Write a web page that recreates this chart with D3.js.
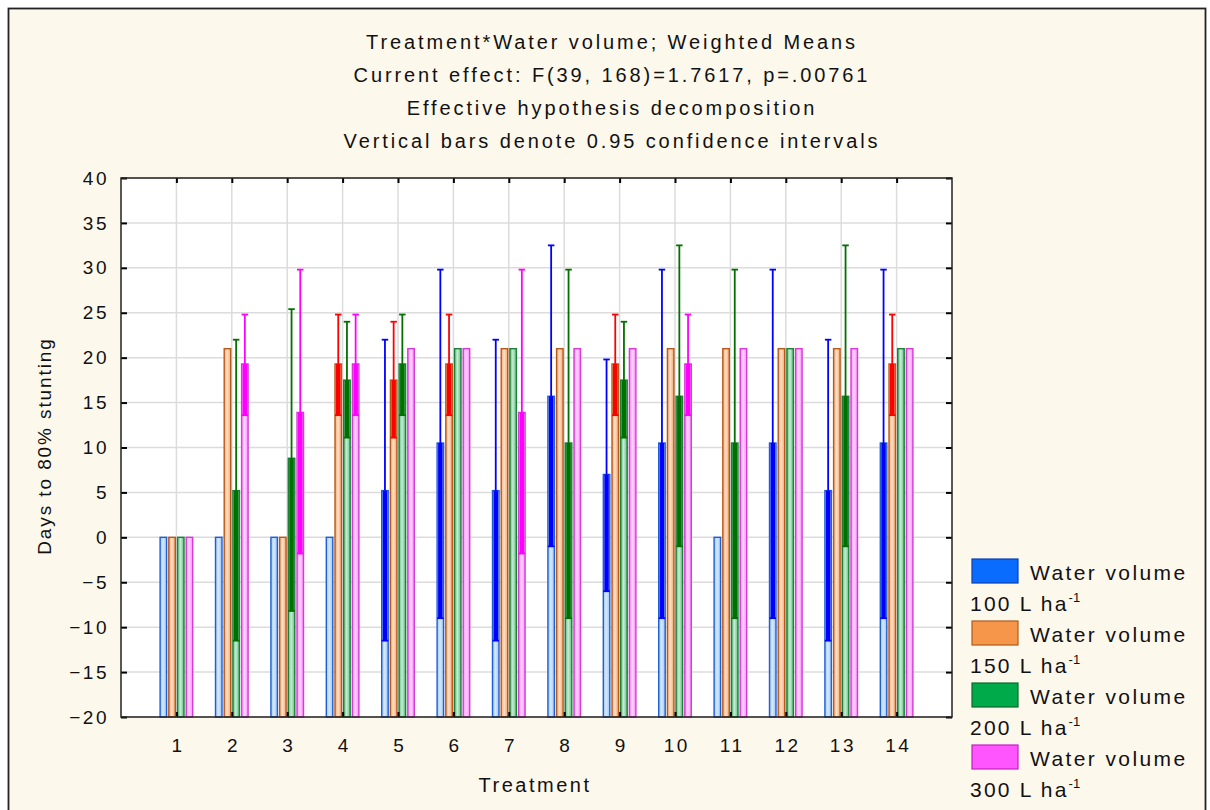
<!DOCTYPE html>
<html>
<head>
<meta charset="utf-8">
<script src="https://cdn.jsdelivr.net/npm/d3@7"></script>
<style>
  body { margin: 0; background: #fff; }
  text { font-family: "Liberation Sans", Arial, sans-serif; fill: #111; }
</style>
</head>
<body>
<svg id="chart" width="1210" height="810"></svg>
<script>
// treatments on the x axis
const treatments = ["1", "2", "3", "4", "5", "6", "7", "8", "9", "10", "11", "12", "13", "14"];
const yTicks = [-20, -15, -10, -5, 0, 5, 10, 15, 20, 25, 30, 35, 40];

const titleLines = [
    "Treatment*Water volume; Weighted Means",
    "Current effect: F(39, 168)=1.7617, p=.00761",
    "Effective hypothesis decomposition",
    "Vertical bars denote 0.95 confidence intervals"
];

// weighted means and 0.95 CI bounds, one array per water volume (null = no interval drawn)
const mean100 = [0, 0, 0, 0, 5.2, 10.5, 5.2, 15.7, 7.0, 10.5, 0, 10.5, 5.2, 10.5];
const low100  = [null, null, null, null, -11.5, -9.0, -11.5, -1.0, -6.0, -9.0, null, -9.0, -11.5, -9.0];
const high100 = [null, null, null, null, 22.0, 29.8, 22.0, 32.5, 19.8, 29.8, null, 29.8, 22.0, 29.8];

const mean150 = [0, 21, 0, 19.3, 17.5, 19.3, 21, 21, 19.3, 21, 21, 21, 21, 19.3];
const low150  = [null, null, null, 13.6, 11.1, 13.6, null, null, 13.6, null, null, null, null, 13.6];
const high150 = [null, null, null, 24.8, 24.0, 24.8, null, null, 24.8, null, null, null, null, 24.8];

const mean200 = [0, 5.2, 8.8, 17.5, 19.3, 21, 21, 10.5, 17.5, 15.7, 10.5, 21, 15.7, 21];
const low200  = [null, -11.5, -8.2, 11.1, 13.6, null, null, -9.0, 11.1, -1.0, -9.0, null, -1.0, null];
const high200 = [null, 22.0, 25.4, 24.0, 24.8, null, null, 29.8, 24.0, 32.5, 29.8, null, 32.5, null];

const mean300 = [0, 19.3, 13.9, 19.3, 21, 21, 13.9, 21, 21, 19.3, 21, 21, 21, 21];
const low300  = [null, 13.6, -1.8, 13.6, null, null, -1.8, null, null, 13.6, null, null, null, null];
const high300 = [null, 24.8, 29.8, 24.8, null, null, 29.8, null, null, 24.8, null, null, null, null];

const seriesNames = ["100 L ha", "150 L ha", "200 L ha", "300 L ha"];

const series = [
    {name: seriesNames[0], mean: mean100, low: low100, high: high100,
     stroke: "#1f5fd6", light: "#d6e8fb", mid: "#9cc6f2", ci: "#0000ff", swatch: "#0a6cff", swatchStroke: "#0a3fb0"},
    {name: seriesNames[1], mean: mean150, low: low150, high: high150,
     stroke: "#b85a1c", light: "#fde0c8", mid: "#f4a870", ci: "#ff0000", swatch: "#f5964a", swatchStroke: "#b05a1a"},
    {name: seriesNames[2], mean: mean200, low: low200, high: high200,
     stroke: "#1d7f3a", light: "#c8ecd4", mid: "#5cc07e", ci: "#007000", swatch: "#00a94a", swatchStroke: "#0a6a2a"},
    {name: seriesNames[3], mean: mean300, low: low300, high: high300,
     stroke: "#d43cd4", light: "#ffd6ff", mid: "#ff88ff", ci: "#ff00ff", swatch: "#ff55ff", swatchStroke: "#c020c0"}
];

const svg = d3.select("#chart");

// frame
svg.append("rect").attr("x", 0).attr("y", 0).attr("width", 1210).attr("height", 810).attr("fill", "#fff");
svg.append("rect").attr("x", 8.5).attr("y", 8.5).attr("width", 1197).attr("height", 810)
   .attr("fill", "#fdf8ec").attr("stroke", "#222").attr("stroke-width", 1.8);

const plot = {left: 121, right: 952, top: 178, bottom: 717};

const x = d3.scaleLinear().domain([0, treatments.length + 1]).range([plot.left, plot.right]);
const y = d3.scaleLinear().domain([-20, 40]).range([plot.bottom, plot.top]);

// gradients for bar fill
const defs = svg.append("defs");
series.forEach((s, i) => {
    const g = defs.append("linearGradient").attr("id", "grad" + i)
        .attr("x1", "0%").attr("x2", "100%").attr("y1", "0%").attr("y2", "0%");
    g.append("stop").attr("offset", "0%").attr("stop-color", s.mid);
    g.append("stop").attr("offset", "45%").attr("stop-color", s.light);
    g.append("stop").attr("offset", "100%").attr("stop-color", s.mid);
});

svg.append("rect").attr("x", plot.left).attr("y", plot.top)
   .attr("width", plot.right - plot.left).attr("height", plot.bottom - plot.top)
   .attr("fill", "#fff");

// grid
svg.append("g").selectAll("line").data(yTicks).enter().append("line")
   .attr("x1", plot.left).attr("x2", plot.right)
   .attr("y1", d => y(d)).attr("y2", d => y(d))
   .attr("stroke", "#dcdcdc").attr("stroke-width", 1.5);
svg.append("g").selectAll("line").data(treatments).enter().append("line")
   .attr("x1", (d, i) => x(i + 1)).attr("x2", (d, i) => x(i + 1))
   .attr("y1", plot.top).attr("y2", plot.bottom)
   .attr("stroke", "#dcdcdc").attr("stroke-width", 1.5);

// bars
const step = 8.7, barW = 6.5;
series.forEach((s, si) => {
    const g = svg.append("g");
    const off = (si - 1.5) * step;
    const rows = treatments.map((t, i) => ({i: i, mean: s.mean[i], low: s.low[i], high: s.high[i]}));

    g.selectAll("rect.bar").data(rows).enter().append("rect")
     .attr("class", "bar")
     .attr("x", d => x(d.i + 1) + off - barW / 2)
     .attr("y", d => y(d.mean))
     .attr("width", barW)
     .attr("height", d => y(-20) - y(d.mean))
     .attr("fill", "url(#grad" + si + ")")
     .attr("stroke", s.stroke).attr("stroke-width", 1.4);

    const withCI = rows.filter(d => d.low !== null);

    // confidence part inside the bar
    g.selectAll("rect.ci").data(withCI).enter().append("rect")
     .attr("class", "ci")
     .attr("x", d => x(d.i + 1) + off - barW / 2 + 1)
     .attr("y", d => y(d.mean))
     .attr("width", barW - 2)
     .attr("height", d => y(d.low) - y(d.mean))
     .attr("fill", s.ci);

    g.selectAll("line.whisker").data(withCI).enter().append("line")
     .attr("class", "whisker")
     .attr("x1", d => x(d.i + 1) + off).attr("x2", d => x(d.i + 1) + off)
     .attr("y1", d => y(d.high)).attr("y2", d => y(d.mean))
     .attr("stroke", s.ci).attr("stroke-width", 1.8);

    ["high", "low"].forEach(k => {
        g.selectAll("line.cap-" + k).data(withCI).enter().append("line")
         .attr("class", "cap-" + k)
         .attr("x1", d => x(d.i + 1) + off - barW / 2).attr("x2", d => x(d.i + 1) + off + barW / 2)
         .attr("y1", d => y(d[k])).attr("y2", d => y(d[k]))
         .attr("stroke", s.ci).attr("stroke-width", 1.8);
    });
});

// axes with inward ticks
const yAxisL = d3.axisLeft(y).tickValues(yTicks).tickSize(-6).tickPadding(12);
svg.append("g").attr("transform", `translate(${plot.left},0)`).call(yAxisL)
   .call(g => g.select(".domain").remove())
   .call(g => g.selectAll("text").attr("font-size", 19).attr("letter-spacing", 2.5)
       .attr("font-family", "Liberation Sans, Arial, sans-serif").attr("fill", "#111"));
svg.append("g").attr("transform", `translate(${plot.right},0)`)
   .call(d3.axisRight(y).tickValues(yTicks).tickSize(-6).tickFormat(""))
   .call(g => g.select(".domain").remove());

const xVals = treatments.map((t, i) => i + 1);
svg.append("g").attr("transform", `translate(0,${plot.bottom})`)
   .call(d3.axisBottom(x).tickValues(xVals).tickSize(-5).tickPadding(22).tickFormat((d, i) => treatments[i]))
   .call(g => g.select(".domain").remove())
   .call(g => g.selectAll("text").attr("font-size", 19).attr("letter-spacing", 2.5).attr("dx", 1.2)
       .attr("font-family", "Liberation Sans, Arial, sans-serif").attr("fill", "#111"));
svg.append("g").attr("transform", `translate(0,${plot.top})`)
   .call(d3.axisTop(x).tickValues(xVals).tickSize(-5).tickFormat(""))
   .call(g => g.select(".domain").remove());

svg.selectAll(".tick line").attr("stroke", "#000").attr("stroke-width", 2);

svg.append("rect").attr("x", plot.left).attr("y", plot.top)
   .attr("width", plot.right - plot.left).attr("height", plot.bottom - plot.top)
   .attr("fill", "none").attr("stroke", "#222").attr("stroke-width", 1.5);

// titles
svg.append("g").selectAll("text").data(titleLines).enter().append("text")
   .attr("x", 612).attr("y", (d, i) => 49 + i * 33)
   .attr("text-anchor", "middle").attr("font-size", 20).attr("letter-spacing", 2.9).text(d => d);

svg.append("text").attr("x", 535).attr("y", 792).attr("text-anchor", "middle")
   .attr("font-size", 20).attr("letter-spacing", 2.5).text("Treatment");
svg.append("text").attr("transform", "translate(51,446) rotate(-90)").attr("text-anchor", "middle")
   .attr("font-size", 19).attr("letter-spacing", 1.9).text("Days to 80% stunting");

// legend
const legend = svg.append("g");
series.forEach((s, i) => {
    const top = 559 + i * 62;
    legend.append("rect").attr("x", 972).attr("y", top).attr("width", 46).attr("height", 24)
          .attr("fill", s.swatch).attr("stroke", s.swatchStroke).attr("stroke-width", 1.2);
    legend.append("text").attr("x", 1030).attr("y", top + 21).attr("font-size", 21)
          .attr("letter-spacing", 2.4).text("Water volume");
    const t = legend.append("text").attr("x", 970).attr("y", top + 52).attr("font-size", 21)
          .attr("letter-spacing", 2.2);
    t.append("tspan").text(s.name);
    t.append("tspan").attr("dy", -9).attr("font-size", 13).attr("letter-spacing", 0).text("-1");
});
</script>
</body>
</html>
